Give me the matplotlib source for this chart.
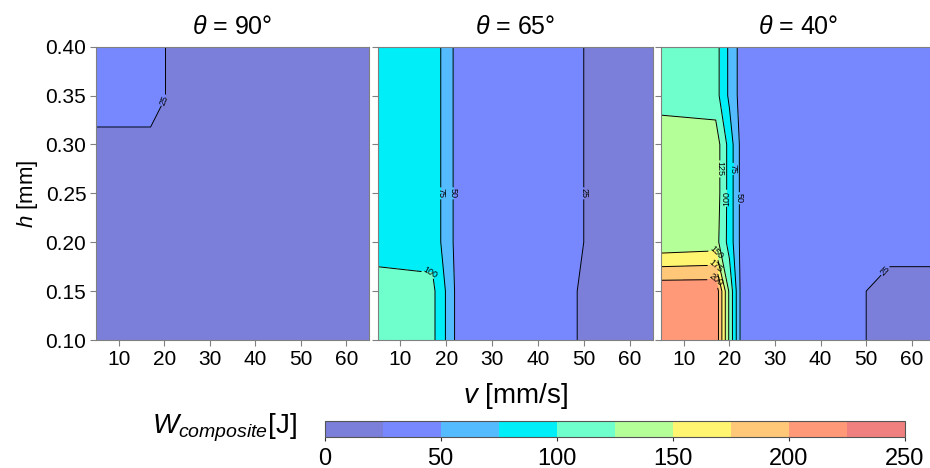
import numpy as np
import matplotlib
matplotlib.use("Agg")
import matplotlib.pyplot as plt

plt.rcParams['font.family'] = ['Liberation Sans', 'DejaVu Sans']
plt.rcParams['mathtext.fontset'] = 'custom'
plt.rcParams['mathtext.it'] = 'Liberation Sans:italic'
plt.rcParams['mathtext.rm'] = 'Liberation Sans'

# grid: printing speed v [mm/s] and layer height h [mm]
v = [5, 17, 20, 23, 35, 45, 55, 65]
h = [0.10, 0.15, 0.20, 0.25, 0.30, 0.35, 0.40]

# W_composite [J], one row per h (bottom to top)
w_90 = [
    [18, 18, 18, 18, 18, 18, 18, 18],
    [18, 18, 18, 18, 18, 18, 18, 18],
    [18, 18, 18, 18, 18, 18, 18, 18],
    [18, 18, 18, 18, 18, 18, 18, 18],
    [20, 20, 20, 20, 18, 18, 18, 18],
    [34, 34, 25.5, 20, 18, 18, 18, 18],
    [34, 34, 25.5, 20, 18, 18, 18, 18],
]
w_65 = [
    [110, 106, 73, 35, 35, 30, 16, 15],
    [110, 106, 73, 35, 35, 30, 16, 15],
    [90, 90, 65, 35, 35, 30, 20, 15],
    [90, 90, 65, 35, 35, 30, 20, 15],
    [90, 90, 65, 35, 35, 30, 20, 15],
    [90, 90, 65, 35, 35, 30, 20, 15],
    [90, 90, 65, 35, 35, 30, 20, 15],
]
w_40 = [
    [220, 220, 120, 30, 38, 30, 20, 20],
    [220, 220, 120, 30, 38, 30, 20, 20],
    [130, 135, 90, 35, 38, 35, 30, 30],
    [140, 140, 90, 35, 38, 35, 30, 30],
    [140, 140, 90, 35, 38, 35, 30, 30],
    [115, 110, 70, 35, 38, 35, 30, 30],
    [115, 110, 70, 35, 38, 35, 30, 30],
]
angles = ['90', '65', '40']

levels = [0, 25, 50, 75, 100, 125, 150, 175, 200, 225, 250]
colors = ['#7b7fd9', '#7788ff', '#55bbff', '#00eef8', '#6fffcc',
          '#b5ff99', '#fff570', '#ffc878', '#ff9977', '#f08080']

# where the inline contour labels sit (staggered where lines crowd)
label_spots = [
    [(20.0, 0.345)],
    [(16.5, 0.171), (19.0, 0.25), (21.5, 0.25), (50.0, 0.25)],
    [(17.0, 0.190), (17.0, 0.176), (17.0, 0.162), (17.9, 0.275), (19.4, 0.245),
     (20.8, 0.275), (22.2, 0.245), (53.0, 0.176)],
]

fig = plt.figure(figsize=(9.3, 4.68), dpi=100)
lefts = [96 / 930, 377.5 / 930, 661 / 930]
widths = [273 / 930, 275 / 930, 273.6 / 930]
bottom = 1 - 340 / 468
height = 293.3 / 468

V, H = np.meshgrid(v, h)
cs = None
for i, w in enumerate([w_90, w_65, w_40]):
    ax = fig.add_axes([lefts[i], bottom, widths[i], height])
    Z = np.array(w, dtype=float)
    cs = ax.contourf(V, H, Z, levels=levels, colors=colors)
    cl = ax.contour(V, H, Z, levels=levels[1:-1], colors='k', linewidths=0.7)
    ax.clabel(cl, manual=label_spots[i], fmt='%d', fontsize=6.5, inline=True,
              inline_spacing=1)
    ax.set_xlim(5, 65)
    ax.set_ylim(0.10, 0.40)
    ax.set_xticks([10, 20, 30, 40, 50, 60])
    ax.set_yticks([0.10, 0.15, 0.20, 0.25, 0.30, 0.35, 0.40])
    ax.yaxis.set_major_formatter(matplotlib.ticker.FormatStrFormatter('%.2f'))
    ax.tick_params(direction='out', length=4, width=0.8, color='#808080',
                   labelsize=15, pad=3)
    for sp in ax.spines.values():
        sp.set_color('#808080')
        sp.set_linewidth(0.8)
    ax.set_title(r'$\theta$ = ' + angles[i] + '°', fontsize=18, pad=9)
    if i == 0:
        ax.set_ylabel(r'$h$ [mm]', fontsize=16, labelpad=4)
    else:
        ax.tick_params(labelleft=False)
    if i == 1:
        ax.set_xlabel(r'$v$ [mm/s]', fontsize=20, labelpad=9)

cax = fig.add_axes([324.7 / 930, 1 - 436.7 / 468, 580 / 930, 16 / 468])
cb = fig.colorbar(cs, cax=cax, orientation='horizontal',
                  ticks=[0, 50, 100, 150, 200, 250])
cb.outline.set_edgecolor('#555555')
cb.outline.set_linewidth(0.8)
cax.tick_params(labelsize=17, length=3, color='#333333', pad=5)
fig.text(297 / 930, 1 - 428 / 468, r'$W_{composite}$[J]', fontsize=20,
         ha='right', va='center')

fig.savefig('out.png', dpi=100)
